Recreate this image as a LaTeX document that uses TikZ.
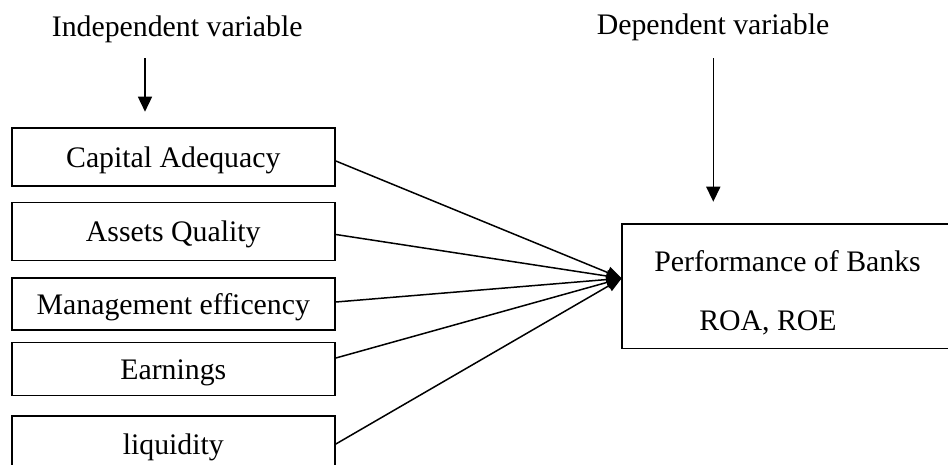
\documentclass[tikz,border=0pt]{standalone}
\usepackage{fontspec}
\setmainfont{Liberation Serif}
\usetikzlibrary{arrows.meta}
\begin{document}
\begin{tikzpicture}[x=1pt,y=-1pt,
  every node/.style={font=\fontsize{29.8}{36}\selectfont, inner sep=0pt},
  varbox/.style={draw, line width=1.8pt, minimum width=323.3pt,
    text height=20pt, text depth=0pt},
  link/.style={line width=1.5pt, -{Triangle[length=15pt,width=12pt]}},
  down/.style={line width=1.5pt, -{Triangle[length=15pt,width=14pt]}}]
\useasboundingbox (0,0) rectangle (948,464);

% headings
\node[anchor=base] (indep) at (177.2,36.5) {Independent variable};
\node[anchor=base] (dep) at (713,34.3) {Dependent variable};

% independent variables
\node[varbox, minimum height=58pt] (cap) at (173.3,157) {Capital Adequacy};
\node[varbox, minimum height=58pt] (asset) at (173.3,231.5) {Assets Quality};
\node[varbox, minimum height=52.6pt] (mgmt) at (173.3,304) {Management efficency};
\node[varbox, minimum height=53pt] (earn) at (173.3,369) {Earnings};
\node[varbox, minimum height=56pt] (liq) at (173.3,444) {liquidity};

% dependent variable
\node[draw, line width=1.8pt, minimum width=348pt, minimum height=124.5pt]
  (perf) at (795.7,286.25) {};
\node[anchor=base] (perfA) at (787.5,271.7) {Performance of Banks};
\node[anchor=base] (perfB) at (768,330) {ROA, ROE};

% arrow ends
\coordinate (indepS) at (145,58);
\coordinate (indepE) at (145,111.7);
\coordinate (depS) at (713.3,58);
\coordinate (depE) at (713.3,201.7);
\coordinate (tip) at (621.7,278.3);

\draw[down] (indepS) -- (indepE);
\draw[down] (depS) -- (depE);

\draw[link] ([yshift=-4pt]cap.east) -- (tip);
\draw[link] ([yshift=-3pt]asset.east) -- (tip);
\draw[link] ([yshift=2pt]mgmt.east) -- (tip);
\draw[link] ([yshift=11pt]earn.east) -- (tip);
\draw[link] (liq.east) -- (tip);
\end{tikzpicture}
\end{document}
